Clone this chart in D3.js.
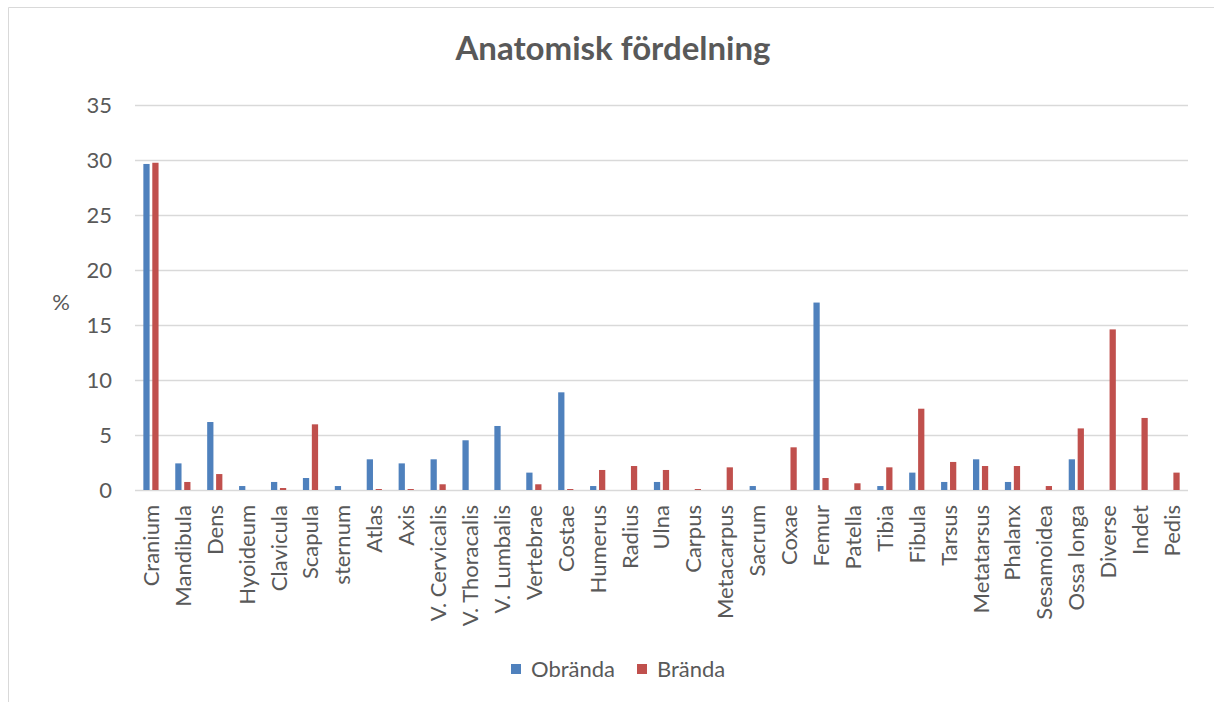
<!DOCTYPE html>
<html>
<head>
<meta charset="utf-8">
<script src="https://cdn.jsdelivr.net/npm/d3@7"></script>
<style>
  html, body { margin: 0; padding: 0; background: #fff; }
  svg { display: block; }
  text { font-family: Lato, "Open Sans", sans-serif; fill: #595959; }
</style>
</head>
<body>
<svg id="chart" width="1214" height="702"></svg>
<script>
const categories = ["Cranium","Mandibula","Dens","Hyoideum","Clavicula","Scapula","sternum","Atlas","Axis","V. Cervicalis","V. Thoracalis","V. Lumbalis","Vertebrae","Costae","Humerus","Radius","Ulna","Carpus","Metacarpus","Sacrum","Coxae","Femur","Patella","Tibia","Fibula","Tarsus","Metatarsus","Phalanx","Sesamoidea","Ossa longa","Diverse","Indet","Pedis"];
const obranda = [29.64,2.42,6.18,0.36,0.73,1.09,0.36,2.79,2.42,2.79,4.52,5.82,1.58,8.88,0.36,0,0.73,0,0,0.36,0,17.04,0,0.36,1.58,0.73,2.79,0.73,0,2.79,0,0,0];
const branda  = [29.75,0.73,1.45,0,0.18,5.97,0,0.09,0.09,0.52,0,0,0.52,0.09,1.82,2.18,1.82,0.09,2.06,0,3.88,1.09,0.61,2.06,7.39,2.55,2.18,2.18,0.36,5.6,14.6,6.55,1.58];
const seriesNames = ["Obrända","Brända"];
const seriesColors = ["#4F81BD","#C0504D"];
const yTicks = [0,5,10,15,20,25,30,35];
const title = "Anatomisk fördelning";
const yLabel = "%";

const svg = d3.select("#chart");
const W = 1214, H = 702;
const plot = {left: 135, right: 1188, top: 105, bottom: 490};
const FS = 22;

svg.append("rect").attr("width", W).attr("height", H).attr("fill", "#fff");
// chart border (left & top visible)
svg.append("line").attr("x1", 8.5).attr("x2", 8.5).attr("y1", 7.5).attr("y2", H).attr("stroke", "#d9d9d9").attr("stroke-width", 1);
svg.append("line").attr("x1", 8.5).attr("x2", W).attr("y1", 7.5).attr("y2", 7.5).attr("stroke", "#d9d9d9").attr("stroke-width", 1);

const x = d3.scaleBand().domain(categories).range([plot.left, plot.right]).padding(0);
const xs = d3.scaleBand().domain(seriesNames).range([-7.6, 7.6]).paddingInner(0.3).paddingOuter(0);
const y = d3.scaleLinear().domain([0, 35]).range([plot.bottom, plot.top]);

// gridlines
const yAxis = d3.axisLeft(y).tickValues(yTicks).tickSize(-(plot.right - plot.left)).tickPadding(23);
const gy = svg.append("g").attr("transform", `translate(${plot.left},0)`).call(yAxis);
gy.select(".domain").remove();
gy.selectAll(".tick line").attr("stroke", "#d9d9d9").attr("stroke-width", 1.3);
gy.selectAll(".tick text").attr("font-size", FS).attr("fill", "#595959").style("font-family", "Lato, 'Open Sans', sans-serif");

// bars
const data = [obranda, branda];
data.forEach((vals, si) => {
  svg.append("g").selectAll("rect")
    .data(categories.map((c, i) => ({c, v: vals[i]})))
    .join("rect")
    .attr("x", d => x(d.c) + x.bandwidth() / 2 + xs(seriesNames[si]))
    .attr("width", xs.bandwidth())
    .attr("y", d => y(d.v))
    .attr("height", d => y(0) - y(d.v))
    .attr("fill", seriesColors[si]);
});

// x axis labels
const xAxis = d3.axisBottom(x).tickSize(0).tickPadding(0);
const gx = svg.append("g").attr("transform", `translate(0,${plot.bottom})`).call(xAxis);
gx.select(".domain").remove();
gx.selectAll(".tick text")
  .attr("font-size", FS)
  .attr("fill", "#595959")
  .style("font-family", "Lato, 'Open Sans', sans-serif")
  .attr("text-anchor", "end")
  .attr("transform", "translate(0,15) rotate(-90)")
  .attr("x", 0).attr("y", 0).attr("dy", "0.36em");

// y label
svg.append("text").attr("x", 61).attr("y", 310).attr("text-anchor", "middle")
  .attr("font-size", FS).text(yLabel);

// title
svg.append("text").attr("x", 613).attr("y", 60).attr("text-anchor", "middle")
  .attr("font-size", 33).attr("font-weight", "bold").text(title);

// legend
const leg = svg.append("g");
const legItems = [{x: 511, tx: 531}, {x: 637, tx: 657}];
seriesNames.forEach((n, i) => {
  leg.append("rect").attr("x", legItems[i].x).attr("y", 664).attr("width", 10).attr("height", 10).attr("fill", seriesColors[i]);
  leg.append("text").attr("x", legItems[i].tx).attr("y", 677).attr("font-size", FS).text(n);
});
</script>
</body>
</html>
